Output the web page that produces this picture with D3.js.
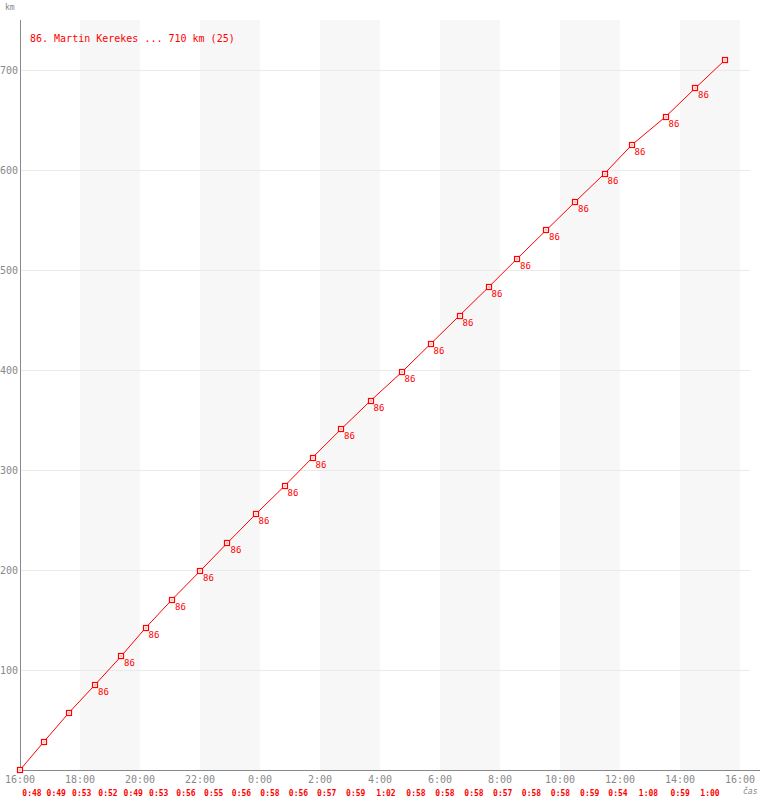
<!DOCTYPE html>
<meta charset="utf-8">
<head>
  <title>Martin Kerekes - laps</title>
</head>
<style>
body { margin: 0; background: #fff; }
svg text { font-family: "DejaVu Sans Mono", monospace; }
</style>
<body>
<svg id="chart" width="760" height="800"></svg>
<script src="https://cdnjs.cloudflare.com/ajax/libs/d3/7.8.5/d3.min.js"></script>
<script>
// lap times in minutes
var lapTimes = ["0:48","0:49","0:53","0:52","0:49","0:53","0:56","0:55","0:56","0:58",
                "0:56","0:57","0:59","1:02","0:58","0:58","0:58","0:57","0:58","0:58",
                "0:59","0:54","1:08","0:59","1:00"];
var lapKm = 28.4;            // 710 km / 25 laps
var runner = "86";
var legendText = "86. Martin Kerekes ... 710 km (25)";
var hourTicks = ["16:00","18:00","20:00","22:00","0:00","2:00","4:00","6:00","8:00","10:00","12:00","14:00","16:00"];
var kmTicks = [100, 200, 300, 400, 500, 600, 700];
// laps that carry a runner label
var labelFrom = 3, labelTo = 24;

var svg = d3.select("#chart");

var x = d3.scaleLinear().domain([0, 24 * 60]).range([20, 740]);
var y = d3.scaleLinear().domain([0, 700]).range([770, 70]);

function mins(s) { var p = s.split(":"); return +p[0] * 60 + +p[1]; }

// cumulative points
var pts = [{t: 0, km: 0, lap: 0}];
var acc = 0;
lapTimes.forEach(function(s, i) {
  var prev = acc;
  acc += mins(s);
  pts.push({t: acc, km: (i + 1) * lapKm, lap: i + 1, prev: prev, label: s});
});

// grey bands every other two hours
d3.range(1, 12, 2).forEach(function(i) {
  svg.append("rect")
    .attr("x", x(i * 120)).attr("y", 20)
    .attr("width", x(120) - x(0)).attr("height", 750)
    .attr("fill", "#f7f7f7");
});

// horizontal grid
svg.selectAll(".grid").data(kmTicks).enter().append("line")
  .attr("x1", 20).attr("x2", 750)
  .attr("y1", function(d) { return y(d) + 0.5; })
  .attr("y2", function(d) { return y(d) + 0.5; })
  .attr("stroke", "#eaeaea");

// axes
svg.append("line").attr("x1", 20.5).attr("x2", 20.5).attr("y1", 20).attr("y2", 770)
  .attr("stroke", "#888");
svg.append("line").attr("x1", 20).attr("x2", 760).attr("y1", 770.5).attr("y2", 770.5)
  .attr("stroke", "#888");

svg.selectAll(".ylab").data(kmTicks).enter().append("text")
  .attr("x", 18).attr("y", function(d) { return y(d) + 4; })
  .attr("text-anchor", "end").attr("font-size", 10).attr("fill", "#888")
  .text(function(d) { return d; });

svg.selectAll(".xlab").data(hourTicks).enter().append("text")
  .attr("x", function(d, i) { return x(i * 120); }).attr("y", 783)
  .attr("text-anchor", "middle").attr("font-size", 10).attr("fill", "#888")
  .text(function(d) { return d; });

svg.append("text").attr("x", 5).attr("y", 10).attr("font-size", 8).attr("fill", "#888").text("km");
svg.append("text").attr("x", 743).attr("y", 794).attr("font-size", 8).attr("font-style", "italic")
  .attr("fill", "#888").text("čas");

// line
svg.append("path").datum(pts)
  .attr("fill", "none").attr("stroke", "red").attr("stroke-width", 1)
  .attr("d", d3.line().x(function(d) { return x(d.t); }).y(function(d) { return y(d.km); }));

// markers
var m = svg.selectAll(".pt").data(pts).enter().append("g")
  .attr("transform", function(d) { return "translate(" + Math.round(x(d.t)) + "," + Math.round(y(d.km)) + ")"; });
m.append("rect").attr("x", -2.5).attr("y", -2.5).attr("width", 5).attr("height", 5)
  .attr("fill", "#fff").attr("stroke", "red").attr("stroke-width", 1.2);
m.append("rect").attr("x", -0.5).attr("y", -0.5).attr("width", 1).attr("height", 1).attr("fill", "red");

// runner labels
svg.selectAll(".rl").data(pts.filter(function(d) { return d.lap >= labelFrom && d.lap <= labelTo; }))
  .enter().append("text")
  .attr("x", function(d) { return x(d.t) + 3; })
  .attr("y", function(d) { return y(d.km) + 10; })
  .attr("font-size", 9).attr("fill", "red")
  .text(runner);

// lap times along the bottom
svg.selectAll(".lt").data(pts.slice(1)).enter().append("text")
  .attr("x", function(d) { return (x(d.prev) + x(d.t)) / 2; })
  .attr("y", 796)
  .attr("text-anchor", "middle").attr("font-size", 8).attr("font-weight", "bold").attr("fill", "red")
  .text(function(d) { return d.label; });

// legend
svg.append("text").attr("x", 30).attr("y", 42).attr("font-size", 10).attr("fill", "red").text(legendText);
</script>
</body>
</html>
